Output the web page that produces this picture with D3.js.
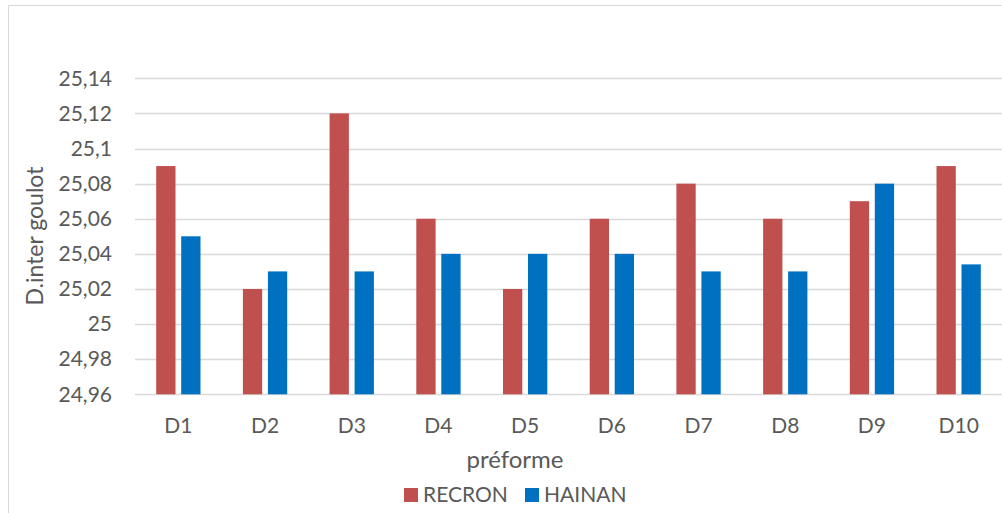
<!DOCTYPE html>
<html>
<head>
<meta charset="utf-8">
<script src="https://cdn.jsdelivr.net/npm/d3@7"></script>
<style>
  html, body { margin: 0; padding: 0; background: #ffffff; }
  svg { display: block; }
  text { font-family: Lato, "Open Sans", sans-serif; fill: #595959; }
</style>
</head>
<body>
<svg id="chart" width="1002" height="513"></svg>
<script>
// Inner neck diameter per preform, two suppliers
const categories = ["D1", "D2", "D3", "D4", "D5", "D6", "D7", "D8", "D9", "D10"];
const seriesNames = ["RECRON", "HAINAN"];
const recron = [25.09, 25.02, 25.12, 25.06, 25.02, 25.06, 25.08, 25.06, 25.07, 25.09];
const hainan = [25.05, 25.03, 25.03, 25.04, 25.04, 25.04, 25.03, 25.03, 25.08, 25.034];
const yTicks = [24.96, 24.98, 25, 25.02, 25.04, 25.06, 25.08, 25.1, 25.12, 25.14];
const colors = ["#C0504D", "#0070C0"];

const svg = d3.select("#chart");
const W = 1002, H = 513;
const plot = { left: 135, right: 1002, top: 78.3, bottom: 394.3 };

// Chart frame
svg.append("rect")
  .attr("x", 8.5).attr("y", 5.5)
  .attr("width", W + 20).attr("height", H + 20)
  .attr("fill", "none").attr("stroke", "#d9d9d9").attr("stroke-width", 1);

const y = d3.scaleLinear().domain([24.96, 25.14]).range([plot.bottom, plot.top]);
const x0 = d3.scaleBand().domain(categories).range([plot.left, plot.right]).padding(0);
const x1 = d3.scaleBand().domain(seriesNames).range([0, x0.bandwidth()])
  .paddingInner(0.228).paddingOuter(0.848);

// Gridlines
svg.append("g").selectAll("line").data(yTicks).join("line")
  .attr("x1", plot.left).attr("x2", plot.right)
  .attr("y1", d => Math.round(y(d)) + 0.5).attr("y2", d => Math.round(y(d)) + 0.5)
  .attr("stroke", "#d9d9d9").attr("stroke-width", 1.3);

// Y axis labels
const fmt = d => d3.format(".2~f")(d).replace(".", ",");
const yAxis = d3.axisLeft(y).tickValues(yTicks).tickFormat(fmt).tickSize(0).tickPadding(0);
const gy = svg.append("g").attr("transform", "translate(112,0)").call(yAxis);
gy.select(".domain").remove();
gy.selectAll("text")
  .attr("font-size", 21).attr("fill", "#595959")
  .style("font-family", "Lato, 'Open Sans', sans-serif");

// Bars
const rows = categories.map((c, i) => ({ cat: c, values: [recron[i], hainan[i]] }));
const groups = svg.append("g").selectAll("g").data(rows).join("g")
  .attr("transform", d => `translate(${x0(d.cat)},0)`);
groups.selectAll("rect")
  .data(d => d.values.map((v, j) => ({ name: seriesNames[j], v, j })))
  .join("rect")
  .attr("x", d => x1(d.name))
  .attr("width", x1.bandwidth())
  .attr("y", d => y(d.v))
  .attr("height", d => y(24.96) - y(d.v))
  .attr("fill", d => colors[d.j]);

// X axis labels
const xAxis = d3.axisBottom(x0).tickSize(0).tickPadding(0);
const gx = svg.append("g").attr("transform", `translate(0,${plot.bottom + 24})`).call(xAxis);
gx.select(".domain").remove();
gx.selectAll("text")
  .attr("font-size", 21).attr("fill", "#595959")
  .style("font-family", "Lato, 'Open Sans', sans-serif");

// Axis titles
svg.append("text")
  .attr("x", 515).attr("y", 468)
  .attr("text-anchor", "middle").attr("font-size", 24)
  .text("préforme");

svg.append("text")
  .attr("transform", "translate(43,236) rotate(-90)")
  .attr("text-anchor", "middle").attr("font-size", 23)
  .text("D.inter goulot");

// Legend
const legend = svg.append("g");
const legendItems = [{ name: seriesNames[0], x: 404 }, { name: seriesNames[1], x: 525 }];
legendItems.forEach((it, i) => {
  legend.append("rect").attr("x", it.x).attr("y", 488).attr("width", 14).attr("height", 14)
    .attr("fill", colors[i]);
  legend.append("text").attr("x", it.x + 19).attr("y", 502)
    .attr("font-size", 21).text(it.name);
});
</script>
</body>
</html>
